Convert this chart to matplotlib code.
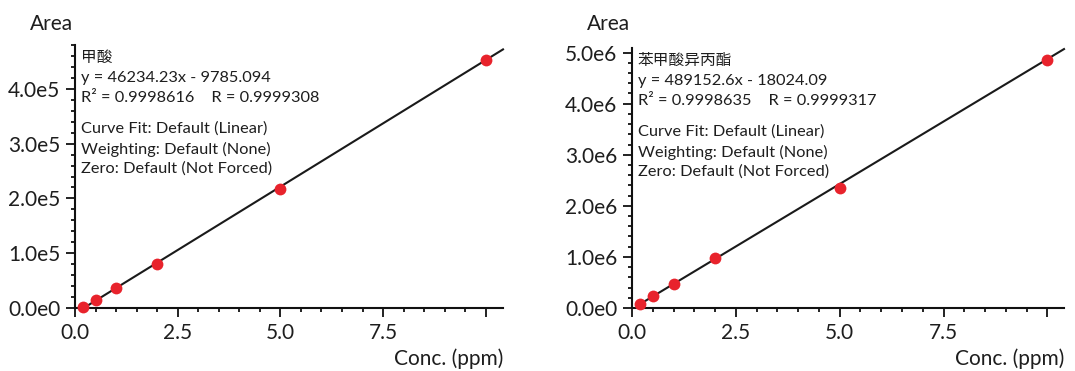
import numpy as np
import matplotlib
matplotlib.use("Agg")
import matplotlib.pyplot as plt
from matplotlib.ticker import MultipleLocator, FuncFormatter

plt.rcParams['font.family'] = ['Lato', 'Noto Sans CJK SC', 'DejaVu Sans']

# calibration data
conc = [0.2, 0.5, 1.0, 2.0, 5.0, 10.0]
area_formic = [2500, 14000, 36500, 79500, 218000, 452000]
area_ester = [70000, 235000, 465000, 975000, 2340000, 4850000]

names = ["甲酸", "苯甲酸异丙酯"]
slopes = [46234.23, 489152.6]
intercepts = [-9785.094, -18024.09]
fit_text = ["y = 46234.23x - 9785.094", "y = 489152.6x - 18024.09"]
r_text = ["R² = 0.9998616    R = 0.9999308", "R² = 0.9998635    R = 0.9999317"]
settings = ["Curve Fit: Default (Linear)", "Weighting: Default (None)", "Zero: Default (Not Forced)"]

W, H = 1075, 371
TXT = "#1e1e1e"
RED = "#e8232c"


def sci_fmt(v, pos):
    m, e = "{:.1e}".format(v).split("e")
    return "{}e{}".format(m, int(e))


def xfmt(v, pos):
    if v > 9:
        return ""
    return "{:.1f}".format(v)


fig = plt.figure(figsize=(W / 100, H / 100), dpi=100)
ax1 = fig.add_axes([75 / W, 1 - 308 / H, (503 - 75) / W, (308 - 45) / H])
ax2 = fig.add_axes([632 / W, 1 - 308 / H, (1064 - 632) / W, (308 - 48) / H])

panels = [
    (ax1, area_formic, 4.8e5, 1e5, 2e4),
    (ax2, area_ester, 5.09e6, 1e6, 2e5),
]

for i, (ax, area, ytop, ymaj, ymin) in enumerate(panels):
    xmax = 10.42 if i == 0 else 10.4
    ax.set_xlim(0, xmax)
    ax.set_ylim(0, ytop)

    xs = np.array([conc[0], xmax])
    ax.plot(xs, slopes[i] * xs + intercepts[i], color="#1a1a1a", lw=1.5, clip_on=False, zorder=2)
    ax.plot(conc, area, "o", color=RED, ms=8.5, mec="none", clip_on=False, zorder=3)

    for s in ["top", "right"]:
        ax.spines[s].set_visible(False)
    for s in ["left", "bottom"]:
        ax.spines[s].set_linewidth(1.5)
        ax.spines[s].set_color("#111111")

    ax.xaxis.set_major_locator(MultipleLocator(2.5))
    ax.xaxis.set_minor_locator(MultipleLocator(0.5))
    ax.yaxis.set_major_locator(MultipleLocator(ymaj))
    ax.yaxis.set_minor_locator(MultipleLocator(ymin))
    ax.yaxis.set_major_formatter(FuncFormatter(sci_fmt))
    ax.xaxis.set_major_formatter(FuncFormatter(xfmt))
    ax.tick_params(which="major", length=6.5, width=1.3, labelsize=15, colors="#111111",
                   labelcolor=TXT, pad=4)
    ax.tick_params(which="minor", length=3, width=1.3, colors="#111111")

    # annotation block
    x0 = ax.get_position().x0 * W + 6
    top = (1 - ax.get_position().y1) * H
    fs = 11.8
    fig.text(x0 / W, 1 - (top + 13) / H, names[i], fontsize=11.3, color=TXT, va="center")
    fig.text(x0 / W, 1 - (top + 33) / H, fit_text[i], fontsize=fs, color=TXT, va="center")
    fig.text(x0 / W, 1 - (top + 53) / H, r_text[i], fontsize=fs, color=TXT, va="center")
    for k, s in enumerate(settings):
        fig.text(x0 / W, 1 - (top + 84 + 20 * k) / H, s, fontsize=fs, color=TXT, va="center")

    # axis labels
    left = ax.get_position().x0 * W
    right = ax.get_position().x1 * W
    fig.text((left - 2) / W, 1 - 24 / H, "Area", fontsize=15, color=TXT, ha="right", va="center")
    fig.text(right / W, 1 - 359 / H, "Conc. (ppm)", fontsize=15, color=TXT, ha="right", va="center")

fig.savefig("out.png", dpi=100)
